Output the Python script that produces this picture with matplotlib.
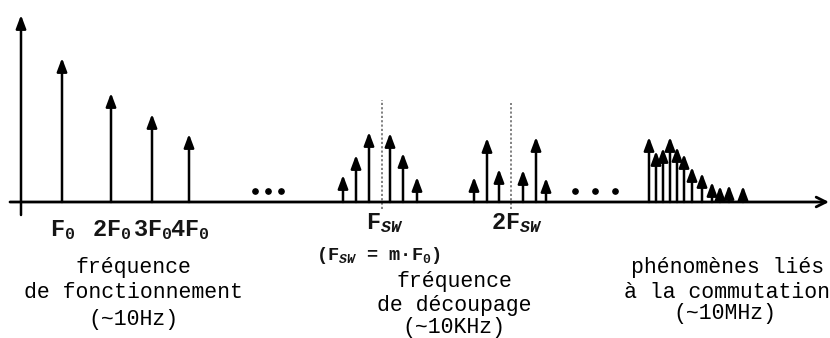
import matplotlib
matplotlib.use('Agg')
import matplotlib.pyplot as plt

plt.rcParams['font.family'] = ['Liberation Mono', 'DejaVu Sans']
plt.rcParams['mathtext.fontset'] = 'custom'
plt.rcParams['mathtext.rm'] = 'Liberation Mono:bold'
plt.rcParams['mathtext.it'] = 'Liberation Mono:italic:bold'

# spectral lines: position along the frequency axis and amplitude
f_low = [62, 111, 152, 189]
a_low = [144, 109, 88, 68]
f_sw = [343, 356, 369, 390, 403, 417]
a_sw = [27, 47, 70, 69, 49, 25]
f_2sw = [474, 487, 499, 523, 536, 546]
a_2sw = [25, 64, 33, 32, 65, 24]
f_hf = [649, 656, 663, 670, 677, 684, 692, 702, 712, 720, 729, 743]
a_hf = [65, 51, 54, 65, 55, 48, 35, 29, 20, 16, 17, 16]

carrier_pos = [382, 511]
carrier_top = [102, 99]
carrier_labels = ['F$_{SW}$', '2F$_{SW}$']
low_labels = ['F$_0$', '2F$_0$', '3F$_0$', '4F$_0$']
dots_1 = [255, 268, 281]
dots_2 = [575, 595, 615]

fig = plt.figure(figsize=(8.3, 3.38), dpi=100)
ax = fig.add_axes([0, 0, 1, 1])
ax.set_xlim(0, 830)
ax.set_ylim(-136, 202)
ax.axis('off')

head = dict(arrowstyle='-|>,head_length=0.8,head_width=0.3', lw=1.8,
            color='black', shrinkA=0, shrinkB=0)

# axes
ax.annotate('', xy=(21, 187), xytext=(21, -13), arrowprops=head)
ax.annotate('', xy=(829, 0), xytext=(10, 0),
            arrowprops=dict(arrowstyle='->,head_length=0.7,head_width=0.35',
                            lw=2.0, color='black', shrinkA=0, shrinkB=0))

for xs, amps in [(f_low, a_low), (f_sw, a_sw), (f_2sw, a_2sw), (f_hf, a_hf)]:
    for x, a in zip(xs, amps):
        ax.annotate('', xy=(x, a), xytext=(x, 0), arrowprops=head)

for x, top in zip(carrier_pos, carrier_top):
    ax.plot([x, x], [-7, top], color='#777777', lw=1.3, ls=(0, (1.2, 1.2)))

ax.plot(dots_1, [11] * 3, 'o', color='black', ms=3.8)
ax.plot(dots_2, [11] * 3, 'o', color='black', ms=3.8)

lab = dict(ha='center', va='center', color='#151515', weight='bold')
txt = dict(ha='center', va='center', color='black')
for x, s in zip(f_low, low_labels):
    ax.text(x + 1, -28, s, fontsize=17, **lab)
ax.text(carrier_pos[0] + 3, -21, carrier_labels[0], fontsize=17, **lab)
ax.text(carrier_pos[1] + 6, -21, carrier_labels[1], fontsize=17, **lab)

ax.text(379, -53, '(F$_{SW}$ = m\u00b7F$_0$)', fontsize=13.5, **lab)

ax.text(133, -66, 'fréquence', fontsize=15.5, **txt)
ax.text(133, -91, 'de fonctionnement', fontsize=15.5, **txt)
ax.text(133, -118, '(~10Hz)', fontsize=15.5, **txt)

ax.text(454, -80, 'fréquence', fontsize=15.5, **txt)
ax.text(454, -103, 'de découpage', fontsize=15.5, **txt)
ax.text(454, -126, '(~10KHz)', fontsize=15.5, **txt)

ax.text(728, -65, 'phénomènes liés', fontsize=15.5, **txt)
ax.text(727, -90, 'à la commutation', fontsize=15.5, **txt)
ax.text(725, -111, '(~10MHz)', fontsize=15.5, **txt)

fig.savefig('out.png', dpi=100, facecolor='white')
